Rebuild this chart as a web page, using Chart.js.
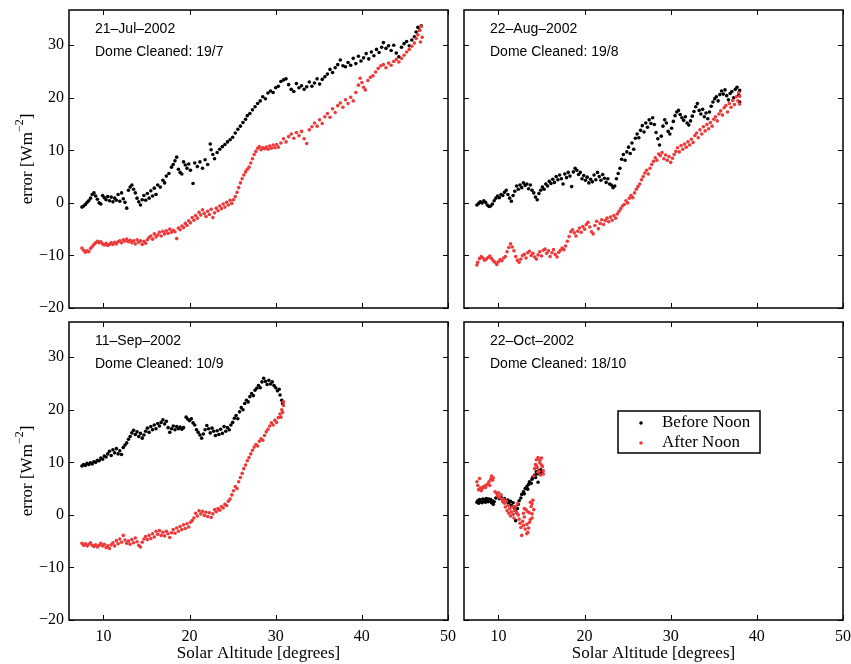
<!DOCTYPE html>
<html>
<head>
<meta charset="utf-8">
<script src="https://cdn.jsdelivr.net/npm/chart.js@4.4.0/dist/chart.umd.min.js"></script>
<style>
  html, body { margin: 0; padding: 0; background: #fff; }
  #page { position: relative; width: 851px; height: 664px; overflow: hidden; }
  .panel { position: absolute; }
</style>
</head>
<body>
<div id="page">
  <div class="panel" style="left:0;top:0"><canvas id="jul" width="460" height="320"></canvas></div>
  <div class="panel" style="left:451px;top:0"><canvas id="aug" width="400" height="320"></canvas></div>
  <div class="panel" style="left:0;top:312px"><canvas id="sep" width="460" height="352"></canvas></div>
  <div class="panel" style="left:451px;top:312px"><canvas id="oct" width="400" height="352"></canvas></div>
</div>
<script>
// error [W m^-2] against solar altitude [deg], pairs of [altitude, error]

const julBefore = [[7.5,-0.8],[7.7,-0.6],[7.9,-0.3],[8.1,0.1],[8.3,0.4],[8.5,0.9],[8.7,1.6],[8.9,1.9],[9.1,1.3],[9.3,0.7],[9.5,0.0],[9.7,-0.2],[9.9,1.4],[10.1,1.0],[10.3,0.6],[10.5,1.2],[10.7,0.4],[10.9,1.1],[11.1,0.2],[11.3,0.9],[11.5,0.5],[11.7,1.6],[11.9,0.3],[12.1,1.9],[12.3,0.8],[12.5,0.1],[12.7,-1.0],[12.9,2.4],[13.1,3.0],[13.3,3.4],[13.5,2.6],[13.7,1.9],[13.9,0.9],[14.1,0.2],[14.3,-0.4],[14.5,0.6],[14.7,1.4],[14.9,0.5],[15.1,1.8],[15.3,0.9],[15.5,2.3],[15.7,1.3],[15.9,2.8],[16.1,1.6],[16.3,3.4],[16.6,3.0],[16.9,4.3],[17.1,3.8],[17.3,5.1],[17.6,5.6],[17.9,6.8],[18.1,7.3],[18.3,8.0],[18.5,8.7],[18.7,6.4],[18.9,5.8],[19.1,5.5],[19.3,7.8],[19.5,7.2],[19.7,6.6],[19.9,7.4],[20.1,6.2],[20.4,3.7],[20.6,7.6],[20.9,6.9],[21.2,7.8],[21.5,6.6],[21.8,8.2],[22.1,7.3],[22.4,11.2],[22.5,10.1],[22.7,9.2],[22.9,8.4],[23.2,9.6],[23.5,10.2],[23.8,10.7],[24.1,11.1],[24.4,11.6],[24.7,12.0],[25.0,12.5],[25.3,13.3],[25.6,14.0],[25.9,14.6],[26.2,15.3],[26.5,15.9],[26.7,16.6],[27.0,17.0],[27.3,17.7],[27.6,18.3],[27.9,18.9],[28.2,19.4],[28.5,20.2],[28.8,19.8],[29.1,20.9],[29.4,21.3],[29.7,21.0],[30.0,21.9],[30.3,22.2],[30.6,23.1],[30.9,23.4],[31.2,23.6],[31.5,22.5],[31.8,21.6],[32.1,21.2],[32.4,22.7],[32.7,21.9],[33.0,22.3],[33.3,21.6],[33.6,22.1],[33.9,23.0],[34.2,22.2],[34.5,22.8],[34.8,23.6],[35.1,22.6],[35.4,23.5],[35.7,24.0],[36.0,24.5],[36.3,25.4],[36.6,24.8],[36.9,25.7],[37.2,26.3],[37.5,27.2],[37.8,26.1],[38.1,25.9],[38.4,26.7],[38.7,26.2],[39.0,27.5],[39.3,26.5],[39.6,27.9],[39.9,27.0],[40.2,27.6],[40.5,28.4],[40.8,27.4],[41.1,28.7],[41.4,28.0],[41.7,29.2],[42.0,28.6],[42.3,29.6],[42.5,30.5],[42.8,29.4],[43.1,29.9],[43.4,29.0],[43.7,30.0],[44.0,28.5],[44.3,27.8],[44.6,29.6],[44.9,30.3],[45.2,30.7],[45.5,29.9],[45.8,31.0],[46.1,31.6],[46.3,32.5],[46.5,33.4],[46.7,32.9],[46.9,33.7]];

const julAfter = [[7.5,-8.6],[7.7,-9.0],[7.9,-9.4],[8.1,-9.1],[8.3,-9.3],[8.5,-8.7],[8.7,-8.3],[8.9,-7.9],[9.1,-7.6],[9.3,-7.3],[9.5,-7.6],[9.7,-7.4],[9.9,-7.8],[10.1,-8.0],[10.3,-7.7],[10.5,-8.1],[10.7,-7.9],[10.9,-7.6],[11.1,-7.9],[11.3,-7.5],[11.5,-7.8],[11.7,-7.4],[11.9,-7.2],[12.1,-7.6],[12.3,-7.0],[12.5,-7.3],[12.7,-6.9],[12.9,-7.4],[13.1,-7.1],[13.3,-7.6],[13.5,-7.2],[13.7,-7.8],[13.9,-7.0],[14.1,-7.5],[14.3,-7.2],[14.5,-7.9],[14.7,-7.3],[14.9,-7.7],[15.1,-7.0],[15.3,-6.6],[15.5,-6.3],[15.7,-6.9],[15.9,-5.9],[16.1,-6.5],[16.3,-6.1],[16.5,-5.6],[16.7,-6.3],[16.9,-5.4],[17.1,-5.9],[17.3,-5.3],[17.5,-5.8],[17.7,-5.0],[17.9,-5.6],[18.1,-5.2],[18.3,-5.5],[18.5,-6.8],[18.7,-4.8],[18.9,-5.1],[19.1,-4.4],[19.3,-4.7],[19.5,-3.9],[19.7,-4.3],[19.9,-3.4],[20.1,-3.8],[20.3,-2.8],[20.5,-3.3],[20.7,-2.4],[20.9,-2.9],[21.1,-1.8],[21.3,-2.3],[21.5,-1.3],[21.7,-2.0],[21.9,-2.6],[22.1,-1.6],[22.3,-2.2],[22.5,-1.2],[22.7,-2.8],[22.9,-1.9],[23.1,-1.0],[23.3,-1.5],[23.5,-0.6],[23.7,-1.1],[23.9,-0.2],[24.1,-0.8],[24.3,0.1],[24.5,-0.4],[24.7,0.5],[24.9,-0.1],[25.1,0.6],[25.3,1.2],[25.5,2.0],[25.7,2.9],[25.9,3.8],[26.1,4.6],[26.3,5.3],[26.5,5.9],[26.7,6.4],[26.9,6.8],[27.1,7.6],[27.3,8.4],[27.5,9.2],[27.7,9.8],[27.9,10.4],[28.1,10.7],[28.3,10.1],[28.5,10.5],[28.7,10.3],[28.9,10.6],[29.1,10.2],[29.3,10.8],[29.5,10.4],[29.7,11.0],[29.9,10.5],[30.1,11.1],[30.3,10.6],[30.6,11.4],[30.9,12.2],[31.2,11.6],[31.5,12.6],[31.8,13.1],[32.1,12.3],[32.4,13.4],[32.7,12.8],[33.0,13.6],[33.3,12.2],[33.6,11.3],[33.9,13.9],[34.2,14.5],[34.5,15.2],[34.8,14.6],[35.1,15.8],[35.4,15.1],[35.7,16.4],[36.0,17.0],[36.3,16.3],[36.6,17.9],[36.9,17.2],[37.2,18.5],[37.5,19.0],[37.8,18.2],[38.1,19.6],[38.4,18.9],[38.7,20.1],[39.0,19.4],[39.3,21.0],[39.6,22.4],[39.8,23.7],[40.0,22.9],[40.2,22.0],[40.4,21.5],[40.7,23.3],[41.0,23.9],[41.3,24.2],[41.6,24.9],[41.9,25.6],[42.2,26.1],[42.5,26.3],[42.8,25.7],[43.1,26.6],[43.4,26.2],[43.7,26.9],[44.0,27.3],[44.3,26.8],[44.6,27.5],[44.9,28.1],[45.2,28.7],[45.5,29.2],[45.8,29.8],[46.1,30.4],[46.3,31.3],[46.5,32.0],[46.7,32.8],[46.8,30.6],[46.9,33.6],[47.0,31.5]];

const augBefore = [[7.5,-0.4],[7.7,-0.1],[7.9,0.2],[8.1,0.0],[8.3,0.4],[8.5,0.1],[8.7,-0.4],[8.9,-0.7],[9.1,-0.6],[9.3,-0.2],[9.5,0.4],[9.7,0.9],[9.9,1.3],[10.1,1.0],[10.3,1.6],[10.5,1.4],[10.7,2.0],[10.9,2.4],[11.1,1.6],[11.3,0.9],[11.5,0.3],[11.7,1.4],[11.9,2.2],[12.1,3.2],[12.3,2.6],[12.5,3.4],[12.7,2.9],[12.9,3.8],[13.1,3.3],[13.3,3.6],[13.5,2.7],[13.7,3.4],[13.9,2.4],[14.1,1.9],[14.3,1.1],[14.5,0.6],[14.7,1.8],[14.9,2.4],[15.1,3.0],[15.3,2.6],[15.5,3.6],[15.7,3.2],[15.9,4.1],[16.1,3.7],[16.3,4.5],[16.5,3.9],[16.7,5.0],[16.9,4.4],[17.1,5.3],[17.3,4.6],[17.5,3.6],[17.7,5.5],[17.9,4.8],[18.1,5.8],[18.3,5.1],[18.5,3.1],[18.7,5.9],[18.9,6.6],[19.1,6.2],[19.3,5.4],[19.5,5.8],[19.7,4.6],[19.9,5.2],[20.1,4.3],[20.3,4.9],[20.5,3.8],[20.7,4.5],[20.9,4.0],[21.1,5.3],[21.3,4.4],[21.5,5.8],[21.7,5.0],[21.9,4.3],[22.1,5.4],[22.3,4.7],[22.5,3.9],[22.7,4.6],[22.9,3.6],[23.1,3.4],[23.3,2.9],[23.5,3.2],[23.7,4.6],[23.9,5.6],[24.1,6.6],[24.3,8.3],[24.5,9.2],[24.7,8.1],[24.9,9.7],[25.1,10.6],[25.3,9.4],[25.5,11.4],[25.7,10.2],[25.9,12.3],[26.1,13.1],[26.3,12.4],[26.5,13.8],[26.7,14.7],[26.9,13.5],[27.1,15.2],[27.3,14.4],[27.5,15.8],[27.7,15.1],[27.9,16.2],[28.1,14.9],[28.3,13.4],[28.5,12.2],[28.7,11.0],[28.9,12.7],[29.1,14.6],[29.3,15.8],[29.5,15.2],[29.7,13.6],[29.9,13.1],[30.1,14.2],[30.3,15.5],[30.5,16.6],[30.7,17.3],[30.9,17.6],[31.1,16.8],[31.3,16.2],[31.5,15.7],[31.7,16.4],[31.9,15.2],[32.1,14.8],[32.3,15.6],[32.5,16.5],[32.7,17.4],[32.9,18.3],[33.1,18.9],[33.3,17.6],[33.5,16.9],[33.7,17.8],[33.9,16.4],[34.1,17.1],[34.3,16.0],[34.5,17.3],[34.7,18.4],[34.9,19.2],[35.1,19.8],[35.3,20.2],[35.5,19.4],[35.7,20.6],[35.9,21.3],[36.1,20.7],[36.3,21.5],[36.5,20.4],[36.7,19.6],[36.9,20.8],[37.1,21.2],[37.3,20.0],[37.5,21.6],[37.7,22.0],[37.9,20.5],[38.0,19.2],[38.0,21.4]];

const augAfter = [[7.5,-11.8],[7.6,-11.3],[7.8,-10.6],[8.0,-10.2],[8.2,-10.5],[8.4,-10.9],[8.6,-10.7],[8.8,-10.4],[9.0,-10.1],[9.2,-10.6],[9.4,-11.0],[9.6,-11.3],[9.8,-11.7],[10.0,-11.2],[10.2,-10.8],[10.4,-11.0],[10.6,-10.5],[10.8,-10.2],[11.0,-9.3],[11.2,-8.5],[11.4,-7.8],[11.6,-8.4],[11.8,-9.1],[12.0,-10.2],[12.2,-10.9],[12.4,-11.3],[12.6,-10.7],[12.8,-10.0],[13.0,-9.8],[13.2,-10.5],[13.4,-9.5],[13.6,-9.2],[13.8,-10.0],[14.0,-9.6],[14.2,-10.3],[14.4,-10.7],[14.6,-9.9],[14.8,-9.3],[15.0,-10.1],[15.2,-9.0],[15.4,-8.8],[15.6,-9.6],[15.8,-9.1],[16.0,-10.2],[16.2,-9.5],[16.4,-8.9],[16.6,-9.8],[16.8,-10.3],[17.0,-9.4],[17.2,-9.0],[17.4,-8.6],[17.6,-8.9],[17.8,-8.2],[18.0,-7.3],[18.2,-6.4],[18.4,-5.5],[18.6,-5.1],[18.8,-5.7],[19.0,-6.3],[19.2,-5.4],[19.4,-4.8],[19.6,-5.6],[19.8,-4.5],[20.0,-5.0],[20.2,-4.1],[20.4,-3.7],[20.6,-4.6],[20.8,-5.5],[21.0,-5.9],[21.2,-4.3],[21.4,-3.5],[21.6,-4.9],[21.8,-3.9],[22.0,-3.2],[22.2,-4.1],[22.4,-3.4],[22.6,-2.9],[22.8,-3.6],[23.0,-2.7],[23.2,-3.3],[23.4,-2.4],[23.6,-2.9],[23.8,-2.1],[24.0,-1.6],[24.2,-1.1],[24.4,-0.6],[24.6,-0.3],[24.8,0.4],[25.0,0.0],[25.2,0.9],[25.4,1.4],[25.6,1.0],[25.8,1.9],[26.0,2.6],[26.2,3.1],[26.4,3.6],[26.6,4.4],[26.8,5.0],[27.0,5.7],[27.2,6.2],[27.4,5.5],[27.6,6.6],[27.8,7.3],[28.0,7.9],[28.2,8.6],[28.4,8.1],[28.6,9.3],[28.8,9.0],[29.0,9.6],[29.2,8.4],[29.4,9.1],[29.6,8.1],[29.8,8.8],[30.0,7.7],[30.2,8.5],[30.4,9.2],[30.6,9.8],[30.8,10.5],[31.0,9.7],[31.2,10.9],[31.4,10.2],[31.6,11.2],[31.8,10.6],[32.0,11.6],[32.2,11.0],[32.4,12.1],[32.6,11.5],[32.8,12.8],[33.0,13.3],[33.2,12.4],[33.4,13.9],[33.6,13.1],[33.8,14.5],[34.0,13.7],[34.2,14.9],[34.4,14.1],[34.6,15.3],[34.8,14.6],[35.0,15.9],[35.2,16.4],[35.4,15.6],[35.6,16.9],[35.8,17.5],[36.0,16.7],[36.2,18.1],[36.4,18.5],[36.6,17.3],[36.8,18.9],[37.0,18.2],[37.2,19.5],[37.4,18.7],[37.6,20.2],[37.8,19.4],[37.9,21.0],[38.0,20.3],[38.0,18.8]];

const sepBefore = [[7.5,9.3],[7.7,9.6],[7.9,9.4],[8.1,9.8],[8.3,9.6],[8.5,9.9],[8.7,9.7],[8.9,10.1],[9.1,10.0],[9.3,10.4],[9.5,10.3],[9.7,10.8],[9.9,10.6],[10.1,11.2],[10.3,11.0],[10.5,11.6],[10.7,12.1],[10.9,11.3],[11.1,12.4],[11.3,11.8],[11.5,12.6],[11.7,11.6],[11.9,12.2],[12.1,11.5],[12.3,12.8],[12.5,13.3],[12.7,13.7],[12.9,14.4],[13.1,14.9],[13.3,15.6],[13.5,16.1],[13.7,15.3],[13.9,15.8],[14.1,14.9],[14.3,15.5],[14.5,14.6],[14.7,15.2],[14.9,15.9],[15.1,16.5],[15.3,15.7],[15.5,16.8],[15.7,16.2],[15.9,17.1],[16.1,16.4],[16.3,17.4],[16.5,16.9],[16.7,17.6],[16.9,18.1],[17.1,17.3],[17.3,17.8],[17.5,16.6],[17.7,15.7],[17.9,16.4],[18.1,16.9],[18.3,16.2],[18.5,16.8],[18.7,16.4],[18.9,16.7],[19.1,16.3],[19.3,16.6],[19.6,18.6],[19.8,18.2],[20.0,17.9],[20.2,18.3],[20.4,17.5],[20.6,17.1],[20.8,16.2],[21.0,15.7],[21.2,15.2],[21.4,14.6],[21.6,15.4],[21.8,16.2],[22.0,17.0],[22.2,16.4],[22.4,15.6],[22.6,16.5],[22.8,15.9],[23.0,15.1],[23.2,16.0],[23.4,15.3],[23.6,16.3],[23.8,15.5],[24.0,16.8],[24.2,15.9],[24.4,16.6],[24.6,16.2],[24.8,17.1],[25.0,17.6],[25.2,18.4],[25.4,18.9],[25.6,18.3],[25.8,19.6],[26.0,20.4],[26.2,20.0],[26.4,21.2],[26.6,21.8],[26.8,21.5],[27.0,22.5],[27.2,23.1],[27.4,22.7],[27.6,23.7],[27.8,24.1],[28.0,24.6],[28.2,24.2],[28.4,25.3],[28.6,26.0],[28.8,25.4],[29.0,24.8],[29.2,25.6],[29.4,24.9],[29.6,25.3],[29.8,24.6],[30.0,24.2],[30.2,23.6],[30.4,23.9],[30.5,22.8],[30.7,21.8],[30.8,21.2]];

const sepAfter = [[7.5,-5.4],[7.7,-5.8],[7.9,-5.5],[8.1,-5.9],[8.3,-5.6],[8.5,-5.3],[8.7,-5.8],[8.9,-6.0],[9.1,-5.7],[9.3,-6.1],[9.5,-5.8],[9.7,-5.4],[9.9,-5.9],[10.1,-5.6],[10.3,-6.2],[10.5,-5.9],[10.7,-6.4],[10.9,-5.7],[11.1,-5.3],[11.3,-5.9],[11.5,-4.9],[11.7,-5.5],[11.9,-4.6],[12.1,-5.2],[12.3,-3.9],[12.5,-4.8],[12.7,-5.4],[12.9,-5.0],[13.1,-5.6],[13.3,-4.7],[13.5,-5.3],[13.7,-4.4],[13.9,-5.1],[14.1,-5.8],[14.3,-6.1],[14.5,-5.2],[14.7,-4.6],[14.9,-4.1],[15.1,-4.7],[15.3,-3.9],[15.5,-4.5],[15.7,-3.6],[15.9,-4.2],[16.1,-3.1],[16.3,-3.7],[16.5,-3.0],[16.7,-3.9],[16.9,-3.3],[17.1,-4.0],[17.3,-3.1],[17.5,-3.6],[17.7,-4.3],[17.9,-3.4],[18.1,-2.8],[18.3,-3.5],[18.5,-2.5],[18.7,-3.1],[18.9,-2.2],[19.1,-2.8],[19.3,-1.9],[19.5,-2.6],[19.7,-1.7],[19.9,-2.3],[20.1,-1.4],[20.3,-1.1],[20.5,-0.6],[20.7,0.3],[20.9,-0.2],[21.1,0.8],[21.3,0.2],[21.5,0.7],[21.7,-0.1],[21.9,0.5],[22.1,-0.3],[22.3,0.4],[22.5,-0.5],[22.7,0.2],[22.9,1.0],[23.1,0.6],[23.3,1.2],[23.5,0.9],[23.7,1.6],[23.9,1.3],[24.1,2.0],[24.3,1.8],[24.5,2.6],[24.7,3.0],[24.9,3.8],[25.1,4.6],[25.3,5.4],[25.5,5.0],[25.7,6.3],[25.9,7.1],[26.1,7.9],[26.3,8.8],[26.5,9.5],[26.7,10.3],[26.9,10.9],[27.1,11.6],[27.3,12.3],[27.5,12.9],[27.7,13.4],[27.9,13.1],[28.1,14.0],[28.3,14.5],[28.5,14.2],[28.7,15.1],[28.9,15.8],[29.1,16.3],[29.3,16.9],[29.5,17.5],[29.7,17.1],[29.9,18.0],[30.1,17.6],[30.3,18.5],[30.5,19.2],[30.6,18.6],[30.7,20.0],[30.8,19.5],[30.9,20.8],[30.9,21.5]];

const octBefore = [[7.5,2.4],[7.6,2.7],[7.7,2.2],[7.8,2.9],[7.9,2.5],[8.0,2.8],[8.1,2.3],[8.2,3.0],[8.3,2.6],[8.4,2.9],[8.5,2.4],[8.6,3.1],[8.7,2.7],[8.8,2.5],[8.9,3.0],[9.0,2.6],[9.1,2.9],[9.2,2.3],[9.3,2.7],[9.4,2.0],[9.5,2.5],[9.7,3.2],[9.9,3.6],[10.1,3.1],[10.3,3.4],[10.5,2.8],[10.7,3.1],[10.9,2.5],[11.1,2.8],[11.2,2.2],[11.4,2.6],[11.5,1.8],[11.7,2.3],[11.8,1.5],[11.9,0.9],[12.0,-1.1],[12.1,0.4],[12.2,1.2],[12.3,2.0],[12.4,2.7],[12.6,3.2],[12.7,3.9],[12.9,4.4],[13.0,4.0],[13.1,5.0],[13.3,5.4],[13.4,4.9],[13.5,5.8],[13.6,6.3],[13.8,6.0],[13.9,6.8],[14.0,7.2],[14.2,7.6],[14.3,7.1],[14.4,8.2],[14.5,7.8],[14.6,6.2],[14.7,8.4],[14.8,7.9],[14.9,8.6],[15.0,8.1]];

const octAfter = [[7.5,6.3],[7.6,5.6],[7.7,4.8],[7.8,6.9],[7.9,5.1],[8.0,4.6],[8.1,5.0],[8.2,5.3],[8.4,5.5],[8.5,5.2],[8.6,5.7],[8.8,5.9],[8.9,6.3],[9.0,5.6],[9.1,6.8],[9.2,7.4],[9.3,6.6],[9.4,7.0],[9.6,4.4],[9.8,4.1],[9.9,3.6],[10.0,4.2],[10.1,3.3],[10.3,3.8],[10.4,3.0],[10.5,2.5],[10.6,2.9],[10.7,2.2],[10.8,1.5],[10.9,2.6],[11.0,0.8],[11.1,1.8],[11.2,0.3],[11.3,1.2],[11.4,-0.2],[11.5,0.6],[11.6,1.5],[11.7,0.1],[11.8,-0.6],[11.9,0.9],[12.0,1.6],[12.1,0.4],[12.2,2.1],[12.3,0.0],[12.4,-0.8],[12.5,-1.6],[12.6,-2.4],[12.7,-3.9],[12.8,-1.2],[12.9,-2.0],[13.0,-0.4],[13.1,-2.7],[13.2,1.0],[13.3,-1.8],[13.4,-3.3],[13.5,-2.5],[13.6,0.4],[13.7,-0.9],[13.8,1.6],[13.9,0.2],[14.0,2.8],[13.9,2.1],[12.9,0.3],[13.0,1.2],[13.4,0.6],[13.6,-1.4],[13.7,2.4],[13.9,-0.6],[14.1,1.0],[13.3,-3.6],[14.1,7.4],[14.2,8.8],[14.3,9.6],[14.4,10.5],[14.5,9.0],[14.6,10.9],[14.7,8.3],[14.8,9.9],[14.9,7.6],[15.0,10.8],[15.1,9.2],[15.2,8.4],[15.2,7.8],[14.6,8.1],[14.4,9.4],[14.8,10.4],[15.0,9.5]];

const xTicks = [10, 20, 30, 40, 50];
const yTicks = [-20, -10, 0, 10, 20, 30];

const BLACK = '#000000';
const RED = '#ec3a3a';

Chart.defaults.font.family = '"Liberation Serif", "Times New Roman", serif';
Chart.defaults.color = '#000';

const fmt = v => (v < 0 ? '\u2212' + Math.abs(v) : String(v));

// frame, inward ticks, date notes, y title and legend (MATLAB look)
const boxPlugin = {
    id: 'box',
    afterDraw(chart, args, opts) {
        const {ctx, chartArea: a, scales: {x, y}} = chart;
        ctx.save();
        ctx.strokeStyle = '#000';
        ctx.lineWidth = 1;
        ctx.beginPath();
        x.ticks.forEach(t => {
            const px = Math.round(x.getPixelForValue(t.value)) + 0.5;
            ctx.moveTo(px, a.bottom); ctx.lineTo(px, a.bottom - 5);
            ctx.moveTo(px, a.top); ctx.lineTo(px, a.top + 5);
        });
        y.ticks.forEach(t => {
            const py = Math.round(y.getPixelForValue(t.value)) + 0.5;
            ctx.moveTo(a.left, py); ctx.lineTo(a.left + 5, py);
            ctx.moveTo(a.right, py); ctx.lineTo(a.right - 5, py);
        });
        ctx.stroke();
        ctx.lineWidth = 1.5;
        ctx.strokeRect(a.left, a.top, a.right - a.left, a.bottom - a.top);

        ctx.fillStyle = '#000';
        ctx.font = '14px "Liberation Sans", Arial, sans-serif';
        ctx.textAlign = 'left';
        ctx.textBaseline = 'alphabetic';
        ctx.fillText(opts.date, a.left + 26, a.top + 23);
        ctx.fillText('Dome Cleaned: ' + opts.cleaned, a.left + 26, a.top + 46);

        if (opts.yTitle) {
            ctx.save();
            ctx.translate(27, (a.top + a.bottom) / 2);
            ctx.rotate(-Math.PI / 2);
            const main = 'error [Wm', sup = '\u22122', end = ']';
            ctx.font = '17px "Liberation Serif", serif';
            const w1 = ctx.measureText(main).width;
            const w3 = ctx.measureText(end).width;
            ctx.font = '12px "Liberation Serif", serif';
            const w2 = ctx.measureText(sup).width;
            let sx = -(w1 + w2 + w3) / 2;
            ctx.font = '17px "Liberation Serif", serif';
            ctx.fillText(main, sx, 5);
            sx += w1;
            ctx.font = '12px "Liberation Serif", serif';
            ctx.fillText(sup, sx, -4);
            sx += w2;
            ctx.font = '17px "Liberation Serif", serif';
            ctx.fillText(end, sx, 5);
            ctx.restore();
        }

        if (opts.legend) {
            const lx = a.left + 154, ly = a.top + 89, lw = 142, lh = 42;
            ctx.fillStyle = '#fff';
            ctx.fillRect(lx, ly, lw, lh);
            ctx.lineWidth = 1.5;
            ctx.strokeRect(lx, ly, lw, lh);
            ctx.font = '17px "Liberation Serif", serif';
            ctx.textBaseline = 'middle';
            chart.data.datasets.forEach((ds, i) => {
                const ry = ly + 12 + i * 20;
                ctx.fillStyle = ds.backgroundColor;
                ctx.beginPath();
                ctx.arc(lx + 23, ry, 1.8, 0, Math.PI * 2);
                ctx.fill();
                ctx.fillStyle = '#000';
                ctx.fillText(ds.label, lx + 44, ry);
            });
        }
        ctx.restore();
    }
};

function makePanel(id, before, after, note, cfg) {
    const canvas = document.getElementById(id);
    return new Chart(canvas, {
        type: 'scatter',
        data: {
            datasets: [{
                label: 'Before Noon',
                data: before.map(p => ({x: p[0], y: p[1]})),
                backgroundColor: BLACK,
                pointRadius: 1.8,
                pointBorderWidth: 0,
                order: 2
            }, {
                label: 'After Noon',
                data: after.map(p => ({x: p[0], y: p[1]})),
                backgroundColor: RED,
                pointRadius: 1.8,
                pointBorderWidth: 0,
                order: 1
            }]
        },
        options: {
            responsive: false,
            animation: false,
            devicePixelRatio: 1,
            events: [],
            layout: {padding: cfg.padding},
            scales: {
                x: {
                    type: 'linear',
                    min: 6,
                    max: 50,
                    grid: {display: false, drawTicks: false},
                    border: {display: false},
                    afterBuildTicks: s => { s.ticks = xTicks.map(v => ({value: v})); },
                    ticks: {
                        display: cfg.xLabels,
                        padding: 7,
                        font: {size: 16},
                        callback: fmt
                    },
                    title: {
                        display: cfg.xLabels,
                        text: 'Solar Altitude [degrees]',
                        font: {size: 17},
                        padding: {top: 0, bottom: 0}
                    },
                    afterFit: s => {
                        s.height = cfg.xLabels ? 44 : 0;
                        s.paddingLeft = 0;
                        s.paddingRight = 0;
                    }
                },
                y: {
                    type: 'linear',
                    min: -20,
                    max: 36.7,
                    grid: {display: false, drawTicks: false},
                    border: {display: false},
                    afterBuildTicks: s => { s.ticks = yTicks.map(v => ({value: v})); },
                    ticks: {
                        display: cfg.yLabels,
                        padding: 5,
                        font: {size: 16},
                        callback: fmt
                    },
                    afterFit: s => {
                        s.width = cfg.yLabels ? 69 : 0;
                        s.paddingTop = 0;
                        s.paddingBottom = 0;
                    }
                }
            },
            plugins: {
                legend: {display: false},
                tooltip: {enabled: false},
                box: {
                    date: note[0],
                    cleaned: note[1],
                    yTitle: cfg.yLabels,
                    legend: cfg.legend
                }
            }
        },
        plugins: [boxPlugin]
    });
}

makePanel('jul', julBefore, julAfter, ['21\u2013Jul\u20132002', '19/7'],
    {padding: {left: 0, top: 10, right: 12, bottom: 12}, xLabels: false, yLabels: true, legend: false});
makePanel('aug', augBefore, augAfter, ['22\u2013Aug\u20132002', '19/8'],
    {padding: {left: 13, top: 10, right: 8, bottom: 12}, xLabels: false, yLabels: false, legend: false});
makePanel('sep', sepBefore, sepAfter, ['11\u2013Sep\u20132002', '10/9'],
    {padding: {left: 0, top: 10, right: 12, bottom: 0}, xLabels: true, yLabels: true, legend: false});
makePanel('oct', octBefore, octAfter, ['22\u2013Oct\u20132002', '18/10'],
    {padding: {left: 13, top: 10, right: 8, bottom: 0}, xLabels: true, yLabels: false, legend: true});
</script>
</body>
</html>
